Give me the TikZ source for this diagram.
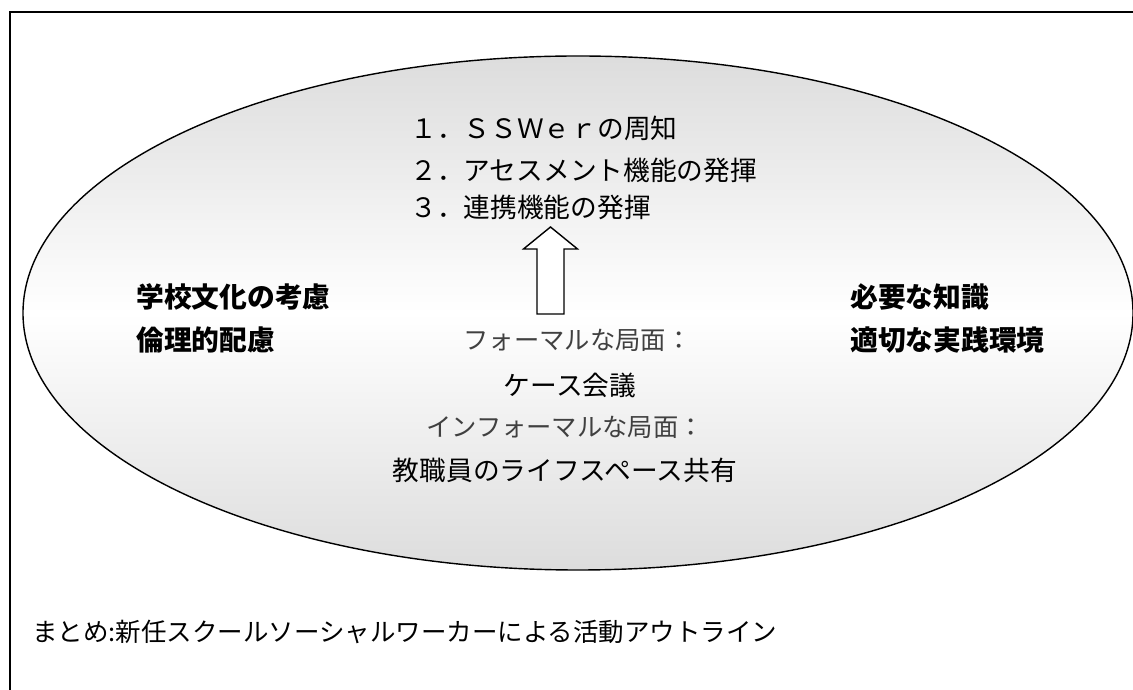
\documentclass[tikz,border=0pt]{standalone}
\usepackage{fontspec}
\setmainfont{Noto Sans CJK JP}
\usepackage{tikz}
\usetikzlibrary{calc, shapes}

\begin{document}
\begin{tikzpicture}[
    every node/.style={inner sep=0, font=\fontsize{15.2}{18}\selectfont},
    strong/.style={font=\fontsize{15.8}{19}\selectfont\bfseries, right},
    phase/.style={text=black!75, font=\fontsize{14.4}{18}\selectfont}]
    \useasboundingbox (0, 0) rectangle (22.66, 13.8);
    \clip (0, 0) rectangle (22.66, 13.8);

    % Frame
    \draw [line width=.8pt] (.2, 13.56) rectangle (23, -1);

    \node (field) at (11.56, 7.54) 
        [ellipse, draw, line width=.8pt, minimum width=22.2cm, minimum height=10.28cm, 
         top color=gray!27, bottom color=gray!27, middle color=white] {};

    % Tasks
    \node (task_notice) at (8.2, 11.24) [right] {１．ＳＳＷｅｒの周知};
    \node (task_assessment) at ($(task_notice.west) + (0, -.84)$) 
        [right] {２．アセスメント機能の発揮};
    \node (task_linkage) at ($(task_notice.west) + (0, -1.58)$) 
        [right] {３．連携機能の発揮};

    \coordinate (arrow_tip) at (11.01, 9.26);
    \draw [line width=.8pt, fill=white] 
        (arrow_tip) -- ($(arrow_tip) + (.54, -.44)$) -- ($(arrow_tip) + (.27, -.44)$) 
        -- ($(arrow_tip) + (.27, -1.74)$) -- ($(arrow_tip) + (-.27, -1.74)$) 
        -- ($(arrow_tip) + (-.27, -.44)$) -- ($(arrow_tip) + (-.54, -.44)$) -- cycle;

    % Conditions
    \node (school_culture) at (2.72, 7.86) [strong] {学校文化の考慮};
    \node (ethics) at (2.72, 7.0) [strong] {倫理的配慮};
    \node (knowledge) at (17.0, 7.86) [strong] {必要な知識};
    \node (environment) at (17.0, 7.0) [strong] {適切な実践環境};

    % Phases
    \node (formal_phase) at (11.55, 7.0) [phase] {フォーマルな局面：};
    \node (case_meeting) at (11.4, 6.1) {ケース会議};
    \node (informal_phase) at (11.3, 5.26) [phase] {インフォーマルな局面：};
    \node (life_space) at (11.3, 4.4) {教職員のライフスペース共有};

    \node (summary) at (.64, 1.16) [right, font=\fontsize{14.5}{17}\selectfont] 
        {まとめ:新任スクールソーシャルワーカーによる活動アウトライン};
\end{tikzpicture}
\end{document}
